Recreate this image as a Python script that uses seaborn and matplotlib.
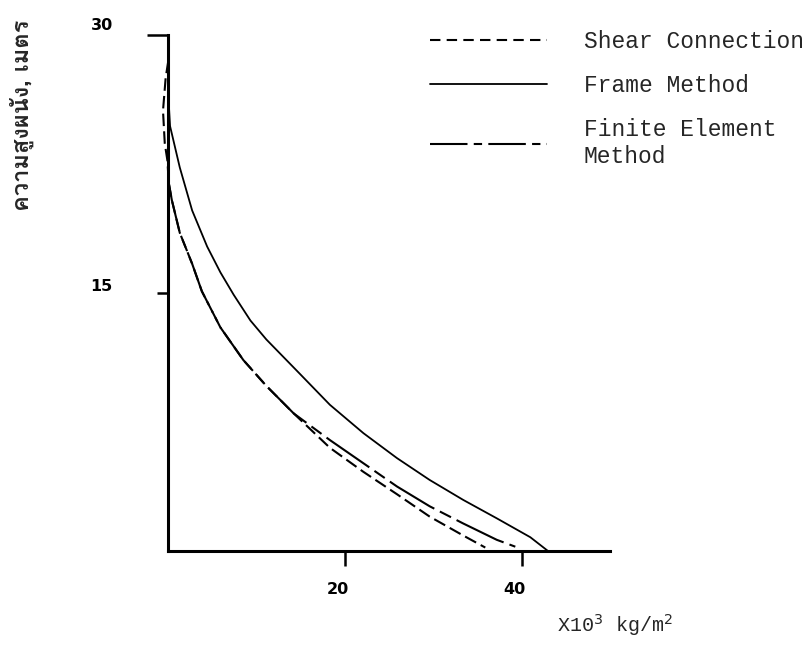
import matplotlib
matplotlib.use("Agg")
import matplotlib.pyplot as plt
import matplotlib.transforms as mtransforms
import seaborn as sns
import pandas as pd

# Wall height (m) against pressure (x10^3 kg/m^2) for each analysis method
frame_height = [30, 26.5, 24.7, 22.3, 19.8, 17.7, 16.2, 14.9, 13.4, 12.3, 11.3, 10.3, 8.5,
                6.85, 5.4, 4.13, 2.97, 1.9, 0.8, 0]
frame_value = [0, 0, 0.2, 1.3, 2.7, 4.4, 5.9, 7.4, 9.3, 11.1, 13.0, 14.9, 18.3,
               22.1, 25.9, 29.6, 33.4, 37.2, 41.0, 43.0]

shear_height = [28.5, 27.5, 25.6, 23.7, 22.7, 21.4, 20.4, 18.5, 16.7, 15.1, 13.0,
                11.1, 9.6, 8.0, 6.0, 4.6, 3.3, 2.0, 0.9, 0.2]
shear_value = [0, -0.3, -0.6, -0.4, -0.1, 0.05, 0.4, 1.3, 2.7, 3.8, 5.9,
               8.5, 11.1, 14.2, 18.3, 22.1, 25.9, 29.6, 33.4, 35.9]

fem_height = [21.4, 20.4, 18.5, 16.7, 15.1, 13.0, 11.1, 9.6, 8.0, 6.45, 5.1,
              3.75, 2.6, 1.6, 0.65, 0.25]
fem_value = [0.05, 0.4, 1.3, 2.7, 3.8, 5.9, 8.5, 11.1, 14.2, 18.3, 22.1,
             25.9, 29.6, 33.4, 37.2, 39.3]

x_ticks = [20, 40]
y_ticks = [15, 30]

sns.set_theme(style="white")
plt.rcParams["font.family"] = ["DejaVu Sans"]

frame_df = pd.DataFrame({"value": frame_value, "height": frame_height})
shear_df = pd.DataFrame({"value": shear_value, "height": shear_height})
fem_df = pd.DataFrame({"value": fem_value, "height": fem_height})

fig = plt.figure(figsize=(8.12, 6.45), dpi=100)
ax = fig.add_axes([168.3 / 812, 1 - 551 / 645, 441.5 / 812, 516 / 645])
ax.set_facecolor("white")

line_kw = dict(x="value", y="height", sort=False, estimator=None, ax=ax, color="black")
sns.lineplot(data=shear_df, lw=1.5, label="Shear Connection", **line_kw)
ax.lines[-1].set_dashes((6, 2.5))
sns.lineplot(data=frame_df, lw=1.3, label="Frame Method", **line_kw)
sns.lineplot(data=fem_df, lw=1.5, label="Finite Element\nMethod", **line_kw)
ax.lines[-1].set_dashes((25, 3, 6, 3))
for ln in ax.lines:
    ln.set_clip_on(False)

ax.set_xlim(0, 50)
ax.set_ylim(0, 30)
ax.set_xticks(x_ticks)
ax.set_xticklabels([str(v) for v in x_ticks], fontsize=11.5, fontweight="bold")
ax.set_yticks(y_ticks)
ax.set_yticklabels([str(v) for v in y_ticks], fontsize=11.5, fontweight="bold")
ax.set_xlabel("")
ax.set_ylabel("")

for side in ("top", "right"):
    ax.spines[side].set_visible(False)
for side in ("left", "bottom"):
    ax.spines[side].set_linewidth(2.2)
    ax.spines[side].set_color("black")

ax.tick_params(axis="x", direction="out", length=11, width=1.8, pad=11,
               bottom=True, colors="black")
ax.tick_params(axis="y", direction="out", length=10, width=1.8, pad=30,
               left=True, colors="black")
ytick_objs = ax.yaxis.get_major_ticks()
ytick_objs[0].tick1line.set_markersize(8)
ytick_objs[1].tick1line.set_markersize(15)
for lab, dy in zip(ax.get_yticklabels(), (-1, 2)):
    lab.set_verticalalignment("bottom")
    lab.set_transform(lab.get_transform()
                      + mtransforms.ScaledTranslation(0, dy / 100, fig.dpi_scale_trans))
for lab in ax.get_xticklabels():
    lab.set_transform(lab.get_transform()
                      + mtransforms.ScaledTranslation(-7 / 100, 0, fig.dpi_scale_trans))

leg = ax.legend(loc="upper left", bbox_to_anchor=(430 / 812, 1 - 30 / 645),
                bbox_transform=fig.transFigure, frameon=False,
                prop={"family": "Liberation Mono", "size": 16.5},
                handlelength=5.1, handletextpad=1.6, labelspacing=0.92,
                borderpad=0, borderaxespad=0)
leg_lines = leg.get_lines()
leg_lines[0].set_dashes((5, 3))
leg_lines[2].set_dashes((18, 3, 4, 3))

fig.text(22 / 812, 1 - 115 / 645, "ความสูงผนัง, เมตร", rotation=90,
         ha="center", va="center", fontsize=17, fontweight="bold",
         family=["Loma", "DejaVu Sans"])
fig.text(557 / 812, 1 - 632 / 645, r"X10$^{3}$ kg/m$^{2}$",
         ha="left", va="baseline", fontsize=14.5, family="Liberation Mono")

fig.savefig("out.png", dpi=100, facecolor="white")
